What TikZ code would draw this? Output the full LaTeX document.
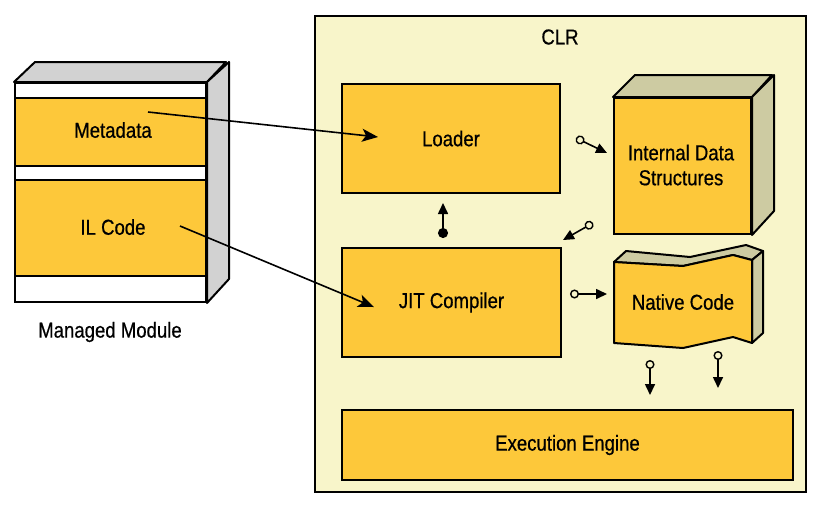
\documentclass[tikz,border=0pt]{standalone}
\usepackage{fontspec}
\setmainfont{Liberation Sans}[FakeStretch=0.86, FakeBold=0.6]
\usepackage{tikz}
\usetikzlibrary{shapes, arrows.meta}
\definecolor{clrbg}{RGB}{248,245,202}
\definecolor{boxfill}{RGB}{253,200,58}
\definecolor{sidegray}{RGB}{210,210,210}
\definecolor{sideolive}{RGB}{205,203,162}
\tikzstyle{box} = [rectangle, draw=black, line width=1pt, fill=boxfill, text centered, inner sep=0pt]
\tikzstyle{strip} = [rectangle, draw=black, line width=1pt, fill=white, inner sep=0pt]
\tikzstyle{face} = [draw=black, line width=1pt, line join=round]
\tikzstyle{bigarrow} = [line width=0.8pt, -{Stealth[length=8pt, width=6.5pt, inset=2pt]}]
\tikzstyle{link} = [line width=0.8pt, {Circle[open, length=4.5pt, width=4.5pt, line width=0.7pt]}-{Stealth[length=5.5pt, width=5pt, inset=0pt]}]
\tikzstyle{dotlink} = [line width=0.8pt, {Circle[length=5pt, width=5pt]}-{Stealth[length=5.5pt, width=5pt, inset=0pt]}]

\begin{document}
\begin{tikzpicture}[x=0.5pt, y=-0.5pt, align=center, font=\fontsize{10.8pt}{12.5pt}\selectfont]
    \useasboundingbox (0,0) rectangle (817,510);

    % managed module
    \node (module) [strip, minimum width=95.5pt, minimum height=109.5pt] at (110.5,192.5) {};
    \draw [face, fill=sidegray] (module.north west) -- ++(21,-20) -- ++(191,0) -- (module.north east) -- cycle;
    \draw [face, fill=sidegray] (module.north east) -- ++(22,-20) -- ++(0,217) -- (module.south east) -- cycle;
    \node (metadata) [box, minimum width=95.5pt, minimum height=34pt] at (110.5,132) {};
    \node at (113,130) {Metadata};
    \node (ilcode) [box, minimum width=95.5pt, minimum height=48pt] at (110.5,228) {};
    \node at (113,227) {IL Code};
    \node (modlabel) at (110,332) {Managed Module};

    % CLR
    \node (clr) [rectangle, draw=black, line width=1pt, fill=clrbg, minimum width=245.5pt, minimum height=238pt] at (560.5,254) {};
    \node (clrlabel) at (560,37) {CLR};
    \node (loader) [box, minimum width=109pt, minimum height=54.5pt] at (451,138.5) {Loader};
    \node (jit) [box, minimum width=109.5pt, minimum height=54.5pt] at (451.5,302.5) {JIT Compiler};
    \node (engine) [box, minimum width=225.5pt, minimum height=35pt] at (567.5,445) {Execution Engine};

    \node (internal) [box, minimum width=68.5pt, minimum height=68pt] at (682.5,166) {};
    \draw [face, fill=sideolive] (internal.north west) -- ++(22,-22) -- ++(137,0) -- (internal.north east) -- cycle;
    \draw [face, fill=sideolive] (internal.north east) -- ++(22,-22) -- ++(0,136) -- (internal.south east) -- cycle;
    \node at (681,165) {Internal Data\\Structures};

    \draw [face, fill=sideolive] (614,262) -- (683,266) -- (733,255) -- (752,260) -- (763,251) -- (746,245) -- (690,257) -- (626,251) -- cycle;
    \draw [face, fill=sideolive] (752,260) -- (763,251) -- (763,333) -- (752,343) -- cycle;
    \draw [face, fill=boxfill] (614,262) -- (683,266) -- (733,255) -- (752,260) -- (752,343) -- (733,337) -- (683,348) -- (614,343) -- cycle;
    \node (native) at (683,302) {Native Code};

    \coordinate (mdfrom) at (148,112);
    \coordinate (mdto) at (378,137);
    \coordinate (ilfrom) at (180,226);
    \coordinate (ilto) at (374,307);
    \draw [bigarrow] (mdfrom) -- (mdto);
    \draw [bigarrow] (ilfrom) -- (ilto);

    \coordinate (ldout) at (576,138);
    \coordinate (idsin) at (607,153);
    \coordinate (idsout) at (593,223);
    \coordinate (jitin) at (563,240);
    \coordinate (jitup) at (443,238);
    \coordinate (ldin) at (443,203);
    \coordinate (jitout) at (570,294);
    \coordinate (ncin) at (607,294);
    \coordinate (ncout1) at (650,360);
    \coordinate (enin1) at (650,395);
    \coordinate (ncout2) at (718,351);
    \coordinate (enin2) at (718,388);
    \draw [link] (ldout) -- (idsin);
    \draw [link] (idsout) -- (jitin);
    \draw [dotlink] (jitup) -- (ldin);
    \draw [link] (jitout) -- (ncin);
    \draw [link] (ncout1) -- (enin1);
    \draw [link] (ncout2) -- (enin2);
\end{tikzpicture}
\end{document}
